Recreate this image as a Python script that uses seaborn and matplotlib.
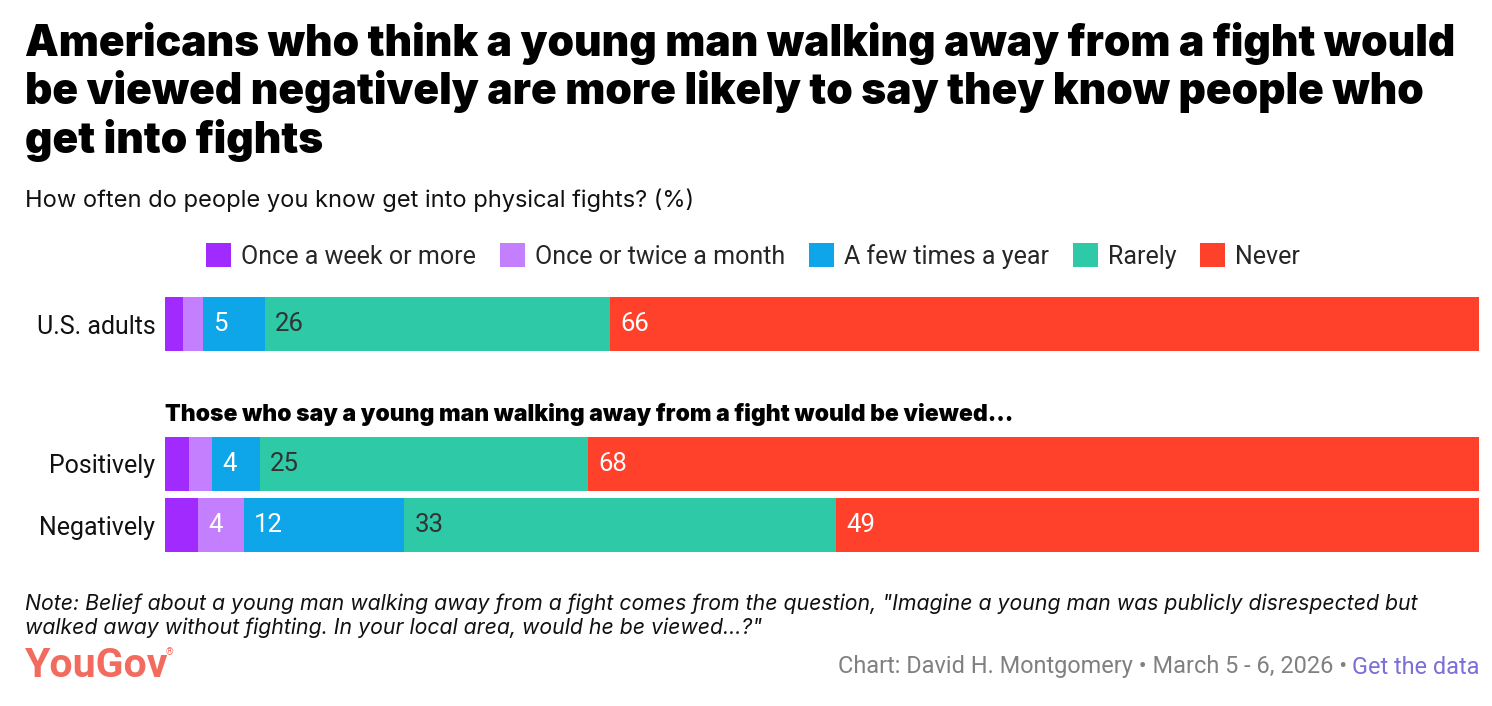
import matplotlib
matplotlib.use("Agg")
import matplotlib.pyplot as plt
import seaborn as sns
import pandas as pd
from matplotlib.patches import Patch

sns.set_theme(style="white")
plt.rcParams["font.family"] = ["Roboto", "DejaVu Sans"]

# ---------------- data ----------------
series = ["Once a week or more", "Once or twice a month", "A few times a year", "Rarely", "Never"]
top_groups = ["U.S. adults"]
bottom_groups = ["Positively", "Negatively"]
us_adults = [1.4, 1.5, 4.7, 26.3, 66.1]
positively = [1.8, 1.8, 3.6, 25.0, 67.8]
negatively = [2.5, 3.5, 12.2, 32.9, 48.9]

colors = ["#A12BFF", "#C47FFF", "#0EA5E9", "#2EC9A7", "#FF412C"]
label_colors = ["white", "white", "white", "#333333", "white"]

group_values = {"U.S. adults": us_adults, "Positively": positively, "Negatively": negatively}

rows = []
for g, vals in group_values.items():
    start = 0.0
    for s, v in zip(series, vals):
        rows.append(dict(group=g, series=s, value=v, start=start, end=start + v))
        start += v
df = pd.DataFrame(rows)

W, H = 1492, 706
fig = plt.figure(figsize=(W / 100, H / 100), dpi=100)

def px_axes(left, top, right, bottom):
    return fig.add_axes([left / W, 1 - bottom / H, (right - left) / W, (bottom - top) / H])

ax_top = px_axes(165, 293.5, 1479, 354.5)
ax_bot = px_axes(165, 433.5, 1479, 555.5)

def draw(ax, groups):
    sub = df[df.group.isin(groups)]
    for i in reversed(range(len(series))):
        d = sub[sub.series == series[i]]
        sns.barplot(data=d, x="end", y="group", order=groups, color=colors[i],
                    saturation=1, width=0.885, orient="h", errorbar=None,
                    linewidth=0, ax=ax)
    for gi, g in enumerate(groups):
        for i, s in enumerate(series):
            r = sub[(sub.group == g) & (sub.series == s)].iloc[0]
            if r.value >= 3:
                ax.annotate(str(int(r.value + 0.5)), xy=(r.start, gi), xytext=(7.5, 0),
                            textcoords="offset points", ha="left", va="center",
                            color=label_colors[i], fontsize=18.5)
    ax.set_xlim(0, 100)
    ax.set_ylim(len(groups) - 0.5, -0.5)
    ax.set_xlabel("")
    ax.set_ylabel("")
    ax.set_xticks([])
    sns.despine(ax=ax, left=True, bottom=True)
    ax.tick_params(axis="y", length=0, pad=7, labelsize=18, labelcolor="#111111")

draw(ax_top, top_groups)
draw(ax_bot, bottom_groups)

# ---------------- texts ----------------
title = ("Americans who think a young man walking away from a fight would\n"
         "be viewed negatively are more likely to say they know people who\n"
         "get into fights")
fig.text(25 / W, 1 - 22 / H, title, ha="left", va="top", fontsize=30.6,
         fontweight="black", family=["Inter", "DejaVu Sans"], color="black", linespacing=1.16)

fig.text(25 / W, 1 - 200 / H, "How often do people you know get into physical fights? (%)",
         ha="left", va="center", fontsize=17, family=["Inter", "DejaVu Sans"], color="#111111")

fig.text(165 / W, 1 - 415 / H,
         "Those who say a young man walking away from a fight would be viewed...",
         ha="left", va="center", fontsize=16.5, fontweight="black",
         family=["Inter", "DejaVu Sans"], color="black")

handles = [Patch(facecolor=c, edgecolor="none") for c in colors]
fig.legend(handles, series, loc="center", bbox_to_anchor=(753 / W, 1 - 256 / H),
           ncol=5, frameon=False, fontsize=18, handlelength=1.0, handleheight=1.1,
           handletextpad=0.4, columnspacing=0.95, borderaxespad=0, borderpad=0)

note = ("Note: Belief about a young man walking away from a fight comes from the question, \"Imagine a young man was publicly disrespected but\n"
        "walked away without fighting. In your local area, would he be viewed...?\"")
fig.text(25 / W, 1 - 594 / H, note, ha="left", va="top", fontsize=15.3, style="italic",
         family=["Inter", "DejaVu Sans"], color="#111111", linespacing=1.2)

fig.text(25 / W, 1 - 666 / H, "YouGov", ha="left", va="center", fontsize=29.5,
         fontweight="bold", color="#F26B5E", family=["Roboto", "DejaVu Sans"])
fig.text(166 / W, 1 - 652 / H, "®", ha="left", va="center", fontsize=7, color="#F26B5E")

fig.canvas.draw()
r = fig.canvas.get_renderer()
t_link = fig.text(1480 / W, 1 - 667 / H, "Get the data", ha="right", va="center",
                  fontsize=16.9, color="#7B6FD8")
bb = t_link.get_window_extent(renderer=r)
fig.text(bb.x0 / W, 1 - 667 / H, "Chart: David H. Montgomery \u2022 March 5 - 6, 2026 \u2022 ",
         ha="right", va="center", fontsize=16.9, color="#808080")

fig.savefig("out.png", dpi=100)
